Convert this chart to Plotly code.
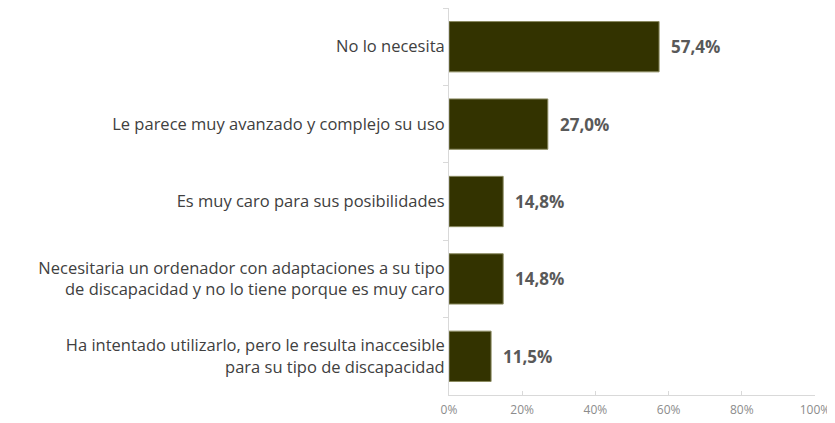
import plotly.graph_objects as go

categories = [
    "No lo necesita",
    "Le parece muy avanzado y complejo su uso",
    "Es muy caro para sus posibilidades",
    "Necesitaria un ordenador con adaptaciones a su tipo<br>de discapacidad y no lo tiene porque es muy caro",
    "Ha intentado utilizarlo, pero le resulta inaccesible<br>para su tipo de discapacidad",
]
values = [57.4, 27.0, 14.8, 14.8, 11.5]
value_labels = ["57,4%", "27,0%", "14,8%", "14,8%", "11,5%"]
x_ticks = [0, 20, 40, 60, 80, 100]
x_tick_labels = ["0%", "20%", "40%", "60%", "80%", "100%"]

fig = go.Figure()
fig.add_trace(go.Bar(
    x=values, y=categories, orientation="h",
    marker=dict(color="#333300", line=dict(color="#8a8a60", width=1)),
    hoverinfo="skip",
))
for v, c, t in zip(values, categories, value_labels):
    fig.add_annotation(x=v, y=c, text="<b>" + t + "</b>", showarrow=False,
                       xanchor="left", xshift=10,
                       font=dict(family="Open Sans", size=17, color="#595959"))

fig.update_layout(
    width=835, height=423,
    margin=dict(l=441, r=28, t=0, b=36),
    paper_bgcolor="white", plot_bgcolor="white",
    bargap=0.35, showlegend=False,
    font=dict(family="Open Sans", color="#404040"),
)
fig.update_xaxes(
    range=[0, 100], tickvals=x_ticks, ticktext=x_tick_labels,
    showgrid=False, zeroline=False, automargin=False,
    showline=True, linecolor="#d9d9d9", linewidth=1,
    ticks="inside", ticklen=4, tickcolor="#d9d9d9",
    ticklabelstandoff=4,
    tickfont=dict(family="Open Sans", size=12, color="#8c8c8c"),
)
fig.update_yaxes(
    autorange="reversed", showgrid=False, automargin=False,
    showline=True, linecolor="#d9d9d9", linewidth=1,
    ticks="outside", ticklen=5, tickcolor="#d9d9d9", tickson="boundaries",
    tickfont=dict(family="Open Sans", size=16.5, color="#404040"),
)
fig.write_html("out.html")
